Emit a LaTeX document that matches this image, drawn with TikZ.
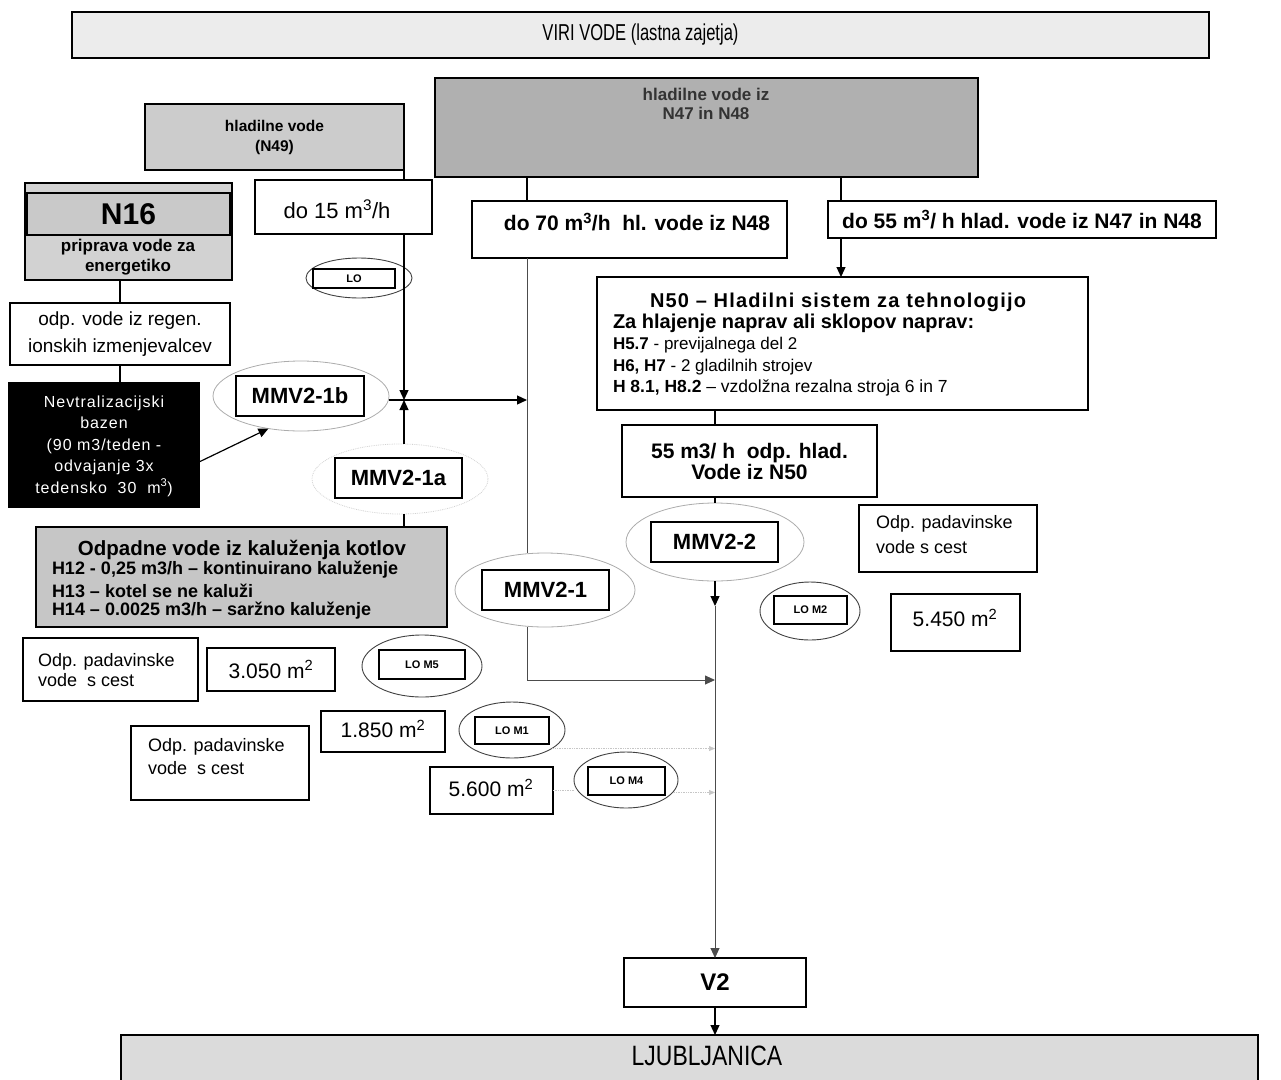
\documentclass[tikz,border=0pt]{standalone}
\usepackage{fontspec}
\setmainfont{Liberation Sans}
\newfontfamily\narrowf[FakeStretch=0.82]{Liberation Sans}
\newfontfamily\condf[FakeStretch=0.72]{Liberation Sans}
\newfontfamily\spacedf[LetterSpace=6]{Liberation Sans}
\usetikzlibrary{arrows.meta,shapes.geometric}
\newcommand\myfs[2]{\fontsize{#1}{#2}\selectfont}
\newcommand\bx[6]{\node[#6, minimum width={#4pt-#2pt}, minimum height={#5pt-#3pt}] (#1) at ({(#2+#4)/2},{(#3+#5)/2})}
\newcommand\el[6]{\node[#6, minimum width={2*#4pt}, minimum height={2*#5pt}] (#1) at (#2,#3)}
\begin{document}
\begin{tikzpicture}[x=1pt,y=-1pt,
  box/.style={draw, rectangle, line width=1.4pt, inner sep=0pt, outer sep=0pt, fill=white},
  lobox/.style={box, line width=1.6pt, font=\myfs{11}{12}\bfseries},
  mmvbox/.style={box, line width=1.6pt, font=\myfs{22}{24}\bfseries},
  ell/.style={ellipse, draw=gray!65, line width=0.8pt, fill=white, inner sep=0pt, outer sep=0pt},
  loell/.style={ellipse, draw=black!75, line width=0.9pt, inner sep=0pt, outer sep=0pt},
  faintell/.style={ellipse, draw=gray!35, line width=0.8pt, densely dotted, fill=white, inner sep=0pt, outer sep=0pt},
  txt/.style={inner sep=0pt, outer sep=0pt},
  ln/.style={draw, line width=1.2pt},
  thinln/.style={draw=black!70, line width=0.9pt},
  arr/.style={-{Triangle[length=10pt,width=9pt]}},
  faint/.style={draw=gray!45, line width=0.7pt, densely dotted},
  farr/.style={-{Triangle[length=6pt,width=5pt]}}
]
\useasboundingbox (0,0) rectangle (1281,1079);

% top banner
\bx{banner}{72}{12}{1209}{58}{box,fill=gray!15,font=\condf\myfs{23}{25}}{VIRI VODE (lastna zajetja)};

% N47/N48 source
\bx{n47}{435}{78}{978}{177}{box,fill=gray!62}{};
\node[txt, align=center, font=\myfs{17}{19}\bfseries, text=black!80] (n47t) at (706,104) {hladilne vode iz\\N47 in N48};

% N49 source
\bx{n49}{145}{104}{404}{170}{box,fill=gray!40,font=\myfs{15.5}{20}\bfseries,align=center}{hladilne vode\\(N49)};

% N16
\bx{n16}{25}{183}{232}{280}{box,fill=gray!35}{};
\bx{n16in}{27}{193}{230}{235}{box,fill=gray!42,line width=1.6pt,font=\myfs{30}{32}\bfseries}{N16};
\node[txt, align=center, font=\myfs{17}{20}\bfseries] (n16t) at (128,257) {priprava vode za\\energetiko};

% flow boxes
\bx{do15}{255}{180}{432}{234}{box}{};
\node[txt, font=\myfs{22}{24}] (do15t) at (337,209) {do 15 m\textsuperscript{3}/h};
\bx{do70}{472}{201}{787}{258}{box}{};
\node[txt, font=\myfs{21}{24}\bfseries] (do70t) at (637,222) {do 70 m\textsuperscript{3}/h\ \ hl. vode iz N48};
\bx{do55}{828}{201}{1216}{238}{box,font=\myfs{21}{24}\bfseries}{do 55 m\textsuperscript{3}/ h hlad. vode iz N47 in N48};

% LO
\el{loE}{359}{278}{53}{20}{loell}{};
\bx{lo}{313}{269}{395}{288}{lobox}{LO};

% odp. vode iz regen.
\bx{odp}{10}{303}{230}{365}{box,font=\myfs{19}{27},align=center}{odp. vode iz regen.\\ionskih izmenjevalcev};

% neutralization
\bx{neut}{9}{383}{199}{507}{box,fill=black}{};
\node[txt, align=center, text=white, font=\spacedf\myfs{16}{21.5}] (neutt) at (104,446) {Nevtralizacijski\\bazen\\(90 m3/teden -\\odvajanje 3x\\tedensko\ \ 30\ \ m\textsuperscript{3})};

% MMV2-1b
\el{mmv1bE}{301}{396}{88}{35}{ell}{};
\bx{mmv1b}{236}{376}{364}{416}{mmvbox}{MMV2-1b};

% MMV2-1a
\el{mmv1aE}{400}{479}{88}{35}{faintell}{};
\bx{mmv1a}{335}{458}{462}{498}{mmvbox}{MMV2-1a};

% Odpadne vode box
\bx{kal}{36}{527}{447}{627}{box,fill=gray!45}{};
\node[txt, font=\myfs{20.5}{22}\bfseries] (kalt) at (242,550) {Odpadne vode iz kaluženja kotlov};
\node[txt, anchor=west, font=\myfs{18}{20}\bfseries] (kal1) at (52,570) {H12 - 0,25 m3/h – kontinuirano kaluženje};
\node[txt, anchor=west, font=\myfs{18}{20}\bfseries] (kal2) at (52,591) {H13 – kotel se ne kaluži};
\node[txt, anchor=west, font=\myfs{18}{20}\bfseries] (kal3) at (52,611) {H14 – 0.0025 m3/h – saržno kaluženje};

% N50
\bx{n50}{597}{277}{1088}{410}{box}{};
\node[txt, anchor=west, font=\spacedf\myfs{20}{22}\bfseries] (n50t) at (650,302) {N50 – Hladilni sistem za tehnologijo};
\node[txt, anchor=west, font=\myfs{20}{22}\bfseries] (n50a) at (613,323) {Za hlajenje naprav ali sklopov naprav:};
\node[txt, anchor=west, font=\myfs{17}{20}] (n50b) at (613,345) {\textbf{H5.7} - previjalnega del 2};
\node[txt, anchor=west, font=\myfs{17}{20}] (n50c) at (613,367) {\textbf{H6, H7} - 2 gladilnih strojev};
\node[txt, anchor=west, font=\myfs{17.5}{20}] (n50d) at (613,388) {\textbf{H 8.1, H8.2} – vzdolžna rezalna stroja 6 in 7};

% 55 m3/h box
\bx{m55}{622}{425}{877}{497}{box,font=\myfs{21}{21}\bfseries,align=center}{55 m3/ h\ \ odp. hlad.\\Vode iz N50};

% MMV2-2
\el{mmv2E}{715}{542}{89}{39}{ell}{};
\bx{mmv2}{651}{522}{778}{562}{mmvbox}{MMV2-2};

% right padavinske
\bx{odpR}{859}{505}{1037}{572}{box}{};
\node[txt, anchor=west, align=left, font=\myfs{18}{25}] (odpRt) at (876,535) {Odp. padavinske\\vode s cest};

% MMV2-1
\el{mmv1E}{545}{590}{90}{37}{ell}{};
\bx{mmv1}{482}{570}{609}{610}{mmvbox}{MMV2-1};

% LO M2
\el{lom2E}{810}{611}{50}{29}{loell}{};
\bx{lom2}{774}{596}{847}{624}{lobox}{LO M2};

% 5.450
\bx{a5450}{891}{594}{1020}{651}{box}{};
\node[txt, font=\myfs{21}{22}] (a5450t) at (955,618) {5.450 m\textsuperscript{2}};

% left padavinske 1
\bx{odpL1}{23}{638}{198}{701}{box}{};
\node[txt, anchor=west, align=left, font=\myfs{18}{20}] (odpL1t) at (38,670) {Odp. padavinske\\vode\ \ s cest};
\bx{a3050}{207}{648}{335}{691}{box,font=\myfs{21}{22}}{3.050 m\textsuperscript{2}};
\el{lom5E}{422}{666}{60}{31}{loell}{};
\bx{lom5}{379}{650}{465}{679}{lobox}{LO M5};

% 1.850 and LO M1
\bx{a1850}{321}{711}{445}{752}{box}{};
\node[txt, font=\myfs{21}{22}] (a1850t) at (383,729) {1.850 m\textsuperscript{2}};
\el{lom1E}{512}{730}{53}{28}{loell}{};
\bx{lom1}{475}{717}{549}{744}{lobox}{LO M1};

% left padavinske 2
\bx{odpL2}{131}{726}{309}{800}{box}{};
\node[txt, anchor=west, align=left, font=\myfs{18}{23}] (odpL2t) at (148,757) {Odp. padavinske\\vode\ \ s cest};

% 5.600 and LO M4
\bx{a5600}{430}{767}{553}{814}{box}{};
\node[txt, font=\myfs{21}{22}] (a5600t) at (491,788) {5.600 m\textsuperscript{2}};
\el{lom4E}{626}{780}{52}{28}{loell}{};
\bx{lom4}{588}{767}{665}{795}{lobox}{LO M4};

% V2 and river
\bx{v2}{624}{958}{806}{1007}{box,font=\myfs{24}{26}\bfseries}{V2};
\bx{lj}{121}{1035}{1258}{1090}{box,fill=gray!28}{};
\node[txt, font=\narrowf\myfs{28}{30}] (ljt) at (707,1056) {LJUBLJANICA};

% helper coordinates
\coordinate (J) at (404,400);
\coordinate (K) at (527,0);
\coordinate (K2) at (841,0);
\coordinate (S) at (715,0);
\coordinate (C1) at (527,680);
\coordinate (Mid) at (715,606);

% connectors
\draw[ln] (n49.south -| J) -- (do15.north -| J);
\draw[ln,arr] (do15.south -| J) -- (J);
\draw[ln,arr] (J |- mmv1aE.north) -- (J);
\draw[ln,arr] (mmv1bE.east |- J) -- (J -| K);
\draw[ln] (kal.north -| J) -- (J |- mmv1aE.south);
\draw[ln,arr] ([yshift=-17pt]neut.east) -- (mmv1bE.225);
\draw[ln] (n16.south -| odp.north) -- (odp.north);
\draw[ln] (odp.south) -- (odp.south |- neut.north);
\draw[ln] (n47.south -| K) -- (do70.north -| K);
\draw[thinln] (do70.south -| K) -- (K |- mmv1E.north);
\draw[thinln,arr] (K |- mmv1E.south) -- (C1) -- (C1 -| S);
\draw[ln] (n47.south -| K2) -- (do55.north -| K2);
\draw[ln,arr] (do55.south -| K2) -- (n50.north -| K2);
\draw[ln] (n50.south -| S) -- (m55.north -| S);
\draw[ln] (m55.south -| S) -- (mmv2E.north);
\draw[ln,arr] (mmv2E.south) -- (Mid);
\draw[thinln,arr] (Mid) -- (v2.north);
\draw[faint,farr] (lom1E.-25) -- (lom1E.-25 -| S);
\draw[faint,farr] (lom4E.-15) -- (lom4E.-15 -| S);
\draw[faint] (a5600.east) -- (a5600.east -| lom4E.west);
\draw[ln,arr] (v2.south) -- (v2.south |- lj.north);
\end{tikzpicture}
\end{document}
